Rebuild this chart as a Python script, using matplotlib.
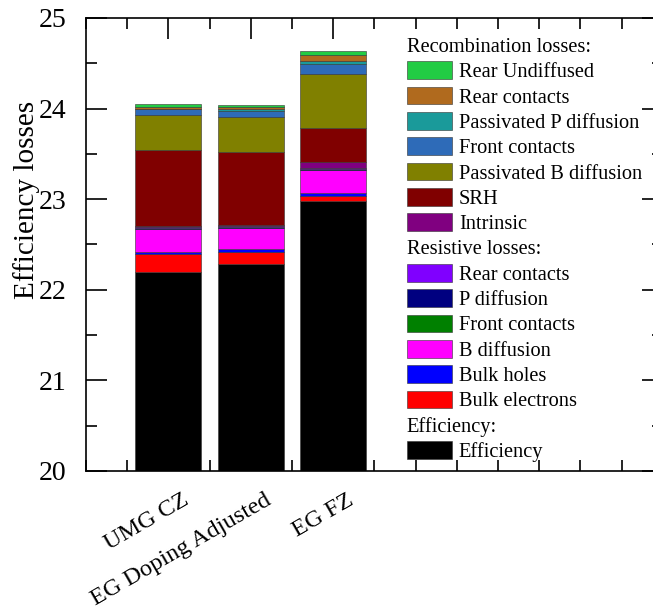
import numpy as np
import matplotlib
matplotlib.use('Agg')
import matplotlib.pyplot as plt
from matplotlib.patches import Rectangle
from matplotlib.ticker import MultipleLocator
import matplotlib.transforms as mtransforms

plt.rcParams['font.family'] = ['Liberation Serif', 'DejaVu Serif']

samples = ['UMG CZ', 'EG Doping Adjusted', 'EG FZ']

# segments, stacked from bottom to top
efficiency = [22.20, 22.28, 22.98]
res_bulk_electrons = [0.20, 0.14, 0.05]
res_bulk_holes = [0.02, 0.03, 0.035]
res_b_diffusion = [0.25, 0.23, 0.255]
res_front_contacts = [0.005, 0.005, 0.005]
res_p_diffusion = [0.01, 0.01, 0.01]
res_rear_contacts = [0.005, 0.005, 0.005]
rec_intrinsic = [0.01, 0.01, 0.07]
rec_srh = [0.84, 0.81, 0.38]
rec_pass_b = [0.39, 0.39, 0.59]
rec_front_contacts = [0.06, 0.065, 0.11]
rec_pass_p = [0.01, 0.015, 0.03]
rec_rear_contacts = [0.02, 0.03, 0.07]
rec_rear_undiffused = [0.03, 0.02, 0.045]

segments = [
    ('Efficiency', efficiency, '#000000'),
    ('Bulk electrons', res_bulk_electrons, '#ff0000'),
    ('Bulk holes', res_bulk_holes, '#0000ff'),
    ('B diffusion', res_b_diffusion, '#ff00ff'),
    ('Front contacts', res_front_contacts, '#008000'),
    ('P diffusion', res_p_diffusion, '#000080'),
    ('Rear contacts', res_rear_contacts, '#8000ff'),
    ('Intrinsic', rec_intrinsic, '#800080'),
    ('SRH', rec_srh, '#800000'),
    ('Passivated B diffusion', rec_pass_b, '#808000'),
    ('Front contacts', rec_front_contacts, '#2e6bb8'),
    ('Passivated P diffusion', rec_pass_p, '#1a9a9a'),
    ('Rear contacts', rec_rear_contacts, '#b06a1e'),
    ('Rear Undiffused', rec_rear_undiffused, '#22cc44'),
]

fig = plt.figure(figsize=(6.53, 6.14), dpi=100)
ax = fig.add_axes([0.1317, 0.2329, 0.8833, 0.7378])

x = np.arange(1, len(samples) + 1)
bottom = np.zeros(len(samples))
handles = {}
for i, (name, vals, col) in enumerate(segments):
    b = ax.bar(x, vals, 0.8, bottom=bottom, color=col, edgecolor='#333333', linewidth=0.4)
    handles[i] = b
    bottom = bottom + np.array(vals)

ax.set_xlim(0, 7)
ax.set_ylim(20, 25)
ax.xaxis.set_major_locator(MultipleLocator(1))
ax.xaxis.set_minor_locator(MultipleLocator(0.5))
ax.yaxis.set_major_locator(MultipleLocator(1))
ax.yaxis.set_minor_locator(MultipleLocator(0.5))
ax.tick_params(which='both', direction='in', top=True, right=True, width=1.2)
ax.tick_params(which='major', length=15)
ax.tick_params(which='minor', length=8)
ax.tick_params(axis='y', labelsize=20, pad=14)
for s in ax.spines.values():
    s.set_linewidth(1.2)

ax.set_xticks(x)
ax.set_xticklabels(samples, rotation=30, ha='right', va='top', rotation_mode='anchor', fontsize=17.5)
offset = mtransforms.ScaledTranslation(10 / 72, -10 / 72, fig.dpi_scale_trans)
for lab in ax.get_xticklabels():
    lab.set_transform(lab.get_transform() + offset)

ax.set_ylabel('Efficiency losses', fontsize=21)
ax.yaxis.set_label_coords(-0.08, 0.598)

# legend with section headers
blank = Rectangle((0, 0), 1, 1, visible=False)
order = [('Recombination losses:', None)] + [(segments[i][0], i) for i in range(13, 6, -1)] \
    + [('Resistive losses:', None)] + [(segments[i][0], i) for i in range(6, 0, -1)] \
    + [('Efficiency:', None), ('Efficiency', 0)]
leg_handles = [blank if i is None else handles[i] for _, i in order]
leg_labels = [n for n, _ in order]
leg = ax.legend(leg_handles, leg_labels, loc='upper left', bbox_to_anchor=(0.542, 0.978),
                frameon=False, fontsize=14.7, handlelength=2.2, handleheight=0.95,
                labelspacing=0.22, handletextpad=0.35, borderaxespad=0)
fs = 14.7 * 100 / 72
shift = (2.2 + 0.35) * fs
for (name, i), t in zip(order, leg.get_texts()):
    if i is None:
        t.set_x(-shift)

fig.savefig('out.png', dpi=100)
